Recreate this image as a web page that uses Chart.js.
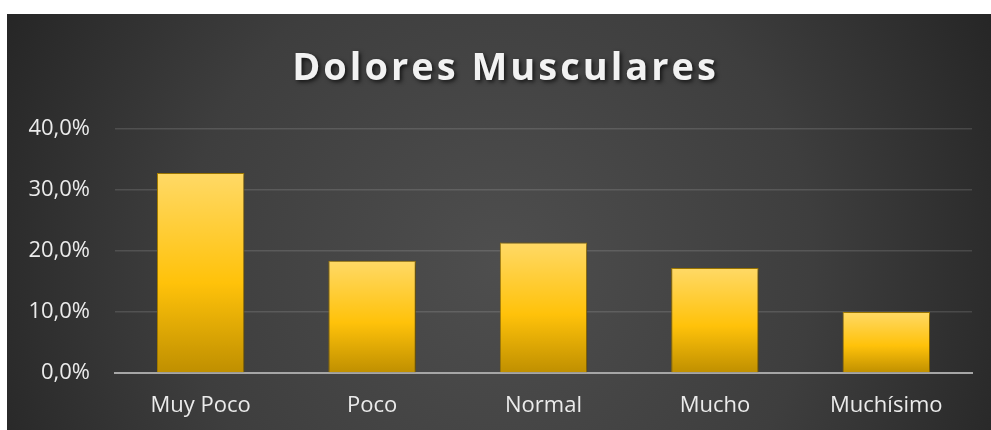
<!DOCTYPE html>
<html>
<head>
<meta charset="utf-8">
<script src="https://cdn.jsdelivr.net/npm/chart.js@4"></script>
<style>
  html, body { margin: 0; padding: 0; background: #fff; }
  #wrap { position: absolute; left: 7px; top: 14px; width: 984px; height: 416px; }
</style>
</head>
<body>
<div id="wrap"><canvas id="painChart"></canvas></div>
<script>
// ==== DATA ====
const categories = ['Muy Poco', 'Poco', 'Normal', 'Mucho', 'Muchísimo'];
const percentValues = [32.8, 18.4, 21.4, 17.2, 10.0];
const tickValues = [0, 10, 20, 30, 40];
const chartTitle = 'Dolores Musculares';

const labelFont = { family: '"Open Sans", sans-serif', size: 22 };

// ==== BACKGROUND + SHADOWS ====
const darkBackground = {
  id: 'darkBackground',
  beforeDraw(chart) {
    const { ctx, width, height } = chart;
    const g = ctx.createRadialGradient(width * 0.5, height * 0.6, 0, width * 0.5, height * 0.6, width * 0.58);
    g.addColorStop(0, '#4e4e4e');
    g.addColorStop(0.55, '#3e3e3e');
    g.addColorStop(1, '#242424');
    ctx.save();
    ctx.fillStyle = g;
    ctx.fillRect(0, 0, width, height);
    ctx.restore();

    // title gets letter spacing, a drop shadow and is nudged to the canvas centre
    const tb = chart.titleBlock;
    if (tb && !tb._wrapped) {
      const orig = tb.draw.bind(tb);
      tb.draw = function (area) {
        ctx.save();
        ctx.translate(16, 0);
        ctx.letterSpacing = '3px';
        ctx.shadowColor = 'rgba(0,0,0,0.7)';
        ctx.shadowBlur = 4;
        ctx.shadowOffsetX = 2;
        ctx.shadowOffsetY = 2;
        orig(area);
        ctx.restore();
      };
      tb._wrapped = true;
    }
  },
  beforeDatasetsDraw(chart) {
    const ctx = chart.ctx;
    ctx.save();
    ctx.shadowColor = 'rgba(0,0,0,0.45)';
    ctx.shadowBlur = 5;
    ctx.shadowOffsetX = 2;
    ctx.shadowOffsetY = 1;
  },
  afterDatasetsDraw(chart) {
    chart.ctx.restore();
  }
};

function barGradient(c) {
  const chart = c.chart;
  if (!chart.chartArea || c.type !== 'data') return '#ffc000';
  const y = chart.scales.y;
  const top = y.getPixelForValue(c.raw);
  const bottom = y.getPixelForValue(0);
  const g = chart.ctx.createLinearGradient(0, top, 0, bottom);
  g.addColorStop(0, '#ffd966');
  g.addColorStop(0.55, '#ffc20a');
  g.addColorStop(1, '#bf8f00');
  return g;
}

// ==== CHART ====
new Chart(document.getElementById('painChart'), {
  type: 'bar',
  data: {
    labels: categories,
    datasets: [{
      data: percentValues,
      backgroundColor: barGradient,
      borderColor: '#a87f00',
      borderWidth: 1,
      categoryPercentage: 1,
      barPercentage: 0.51
    }]
  },
  options: {
    responsive: true,
    maintainAspectRatio: false,
    animation: false,
    layout: { padding: { left: 0, right: 19, top: 0, bottom: 0 } },
    plugins: {
      legend: { display: false },
      tooltip: { enabled: false },
      title: {
        display: true,
        text: chartTitle,
        color: '#f2f2f2',
        font: { family: '"Open Sans", sans-serif', size: 38, weight: 'bold', lineHeight: 1.2 },
        padding: { top: 32, bottom: 37.4 }
      }
    },
    scales: {
      x: {
        grid: { display: false, drawTicks: false },
        border: { display: true, color: '#a6a6a6', width: 2 },
        ticks: { color: '#ebebeb', font: labelFont, padding: 20, maxRotation: 0 },
        afterFit(scale) { scale.height = 57; }
      },
      y: {
        min: 0,
        max: 40,
        afterBuildTicks(scale) { scale.ticks = tickValues.map(v => ({ value: v })); },
        grid: { color: 'rgba(255,255,255,0.13)', lineWidth: 1.5, drawTicks: false },
        border: { display: false },
        ticks: {
          color: '#ebebeb',
          font: labelFont,
          padding: 25,
          callback: v => v.toFixed(1).replace('.', ',') + '%'
        },
        afterFit(scale) { scale.width = 108; }
      }
    }
  },
  plugins: [darkBackground]
});
</script>
</body>
</html>
